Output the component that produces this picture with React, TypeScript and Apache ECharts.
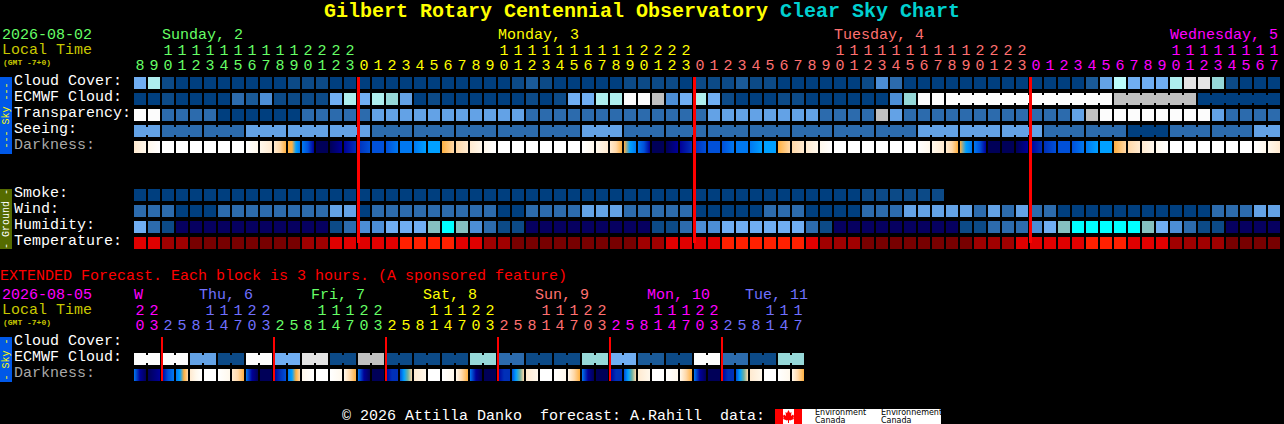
import React, { useEffect, useRef } from "react";
import * as echarts from "echarts";

// ---------- Data ----------
const titleMain = "Gilbert Rotary Centennial Observatory";
const titleSub = "Clear Sky Chart";
const mainRowLabels = ["Cloud Cover:", "ECMWF Cloud:", "Transparency:", "Seeing:", "Darkness:", "", " ", "Smoke:", "Wind:", "Humidity:", "Temperature:"];
const extRowLabels = ["Cloud Cover:", "ECMWF Cloud:", "Darkness:"];

const mainHours = "8901234567890123012345678901234567890123012345678901234567890123012345678901234567".split("");
const mainTens = "  11111111112222          11111111112222          11111111112222          11111111".split("");
const extHours = "032581470325814703258147032581470325814703258147".split("");
const extTens = "22   11122   11122   11122   11122   11122   111".split("");

const mainDayNames = ["Sunday, 2", "Monday, 3", "Tuesday, 4", "Wednesday, 5"];
const extDayNames = ["W", "Thu, 6", "Fri, 7", "Sat, 8", "Sun, 9", "Mon, 10", "Tue, 11"];

// Column where the next day's colour starts
const mainDaySpans = [16, 24, 24, 18];
const extDaySpans = [2, 8, 8, 8, 8, 8, 6];
const mainMidnights = [16, 40, 64];
const extMidnights = [2, 10, 18, 26, 34, 42];

// 0 clear ... 11 overcast, 12 pale, 13 navy, 14 cyan, 15 teal
const cloudCover = [
  6, 8, 1, 0, 0, 0, 0, 0, 0, 0,
  0, 1, 1, 1, 0, 0, 0, 0, 0, 0,
  0, 0, 0, 0, 0, 0, 0, 1, 2, 1,
  0, 0, 0, 0, 0, 1, 1, 1, 1, 0,
  1, 1, 1, 2, 1, 1, 0, 0, 0, 0,
  0, 0, 1, 4, 3, 0, 0, 0, 0, 0,
  0, 0, 0, 0, 0, 0, 0, 0, 2, 5,
  12, 6, 6, 6, 8, 10, 10, 7, 1, 0,
  0, 0,
];
const ecmwfCloud = [
  0, 0, 1, 0, 0, 0, 0, 3, 2, 4,
  1, 1, 1, 1, 6, 8, 6, 8, 7, 5,
  0, 1, 0, 0, 0, 0, 0, 0, 1, 0,
  1, 6, 6, 8, 8, 11, 11, 9, 4, 6,
  8, 6, 1, 0, 0, 0, 1, 1, 0, 0,
  0, 0, 0, 0, 4, 7, 11, 11, 11, 11,
  11, 11, 11, 11, 11, 11, 11, 11, 11, 11,
  9, 9, 9, 9, 9, 9, 0, 0, 0, 0,
  0, 0,
];
const ecmwfRuns = [
  1, 1, 1, 1, 1, 1, 1, 1, 1, 1, 1, 1, 1, 1, 1, 1, 1, 1, 1, 1,
  1, 1, 1, 1, 1, 1, 1, 1, 1, 1, 1, 1, 1, 1, 1, 1, 1, 1, 1, 1,
  1, 1, 1, 1, 1, 1, 1, 1, 1, 1, 1, 1, 1, 1, 1, 1, 1, 1,
  12, 6, 6,
];
const transparency = [
  11, 11, 3, 3, 3, 3, 0, 0, 0, 0,
  0, 0, 3, 3, 3, 3, 3, 5, 5, 5,
  5, 5, 5, 5, 5, 5, 5, 5, 3, 3,
  3, 3, 3, 3, 3, 3, 3, 3, 3, 3,
  3, 5, 5, 5, 5, 5, 5, 5, 5, 3,
  3, 3, 3, 9, 5, 3, 3, 3, 3, 3,
  3, 3, 3, 3, 3, 3, 3, 5, 9, 11,
  11, 11, 11, 11, 11, 11, 11, 5, 3, 3,
  3, 3,
];
const seeing = [
  5, 5, 3, 3, 3, 3, 3, 3, 5, 5,
  5, 5, 5, 5, 5, 5, 5, 3, 3, 3,
  3, 3, 3, 3, 3, 3, 3, 3, 3, 3,
  3, 3, 5, 5, 5, 3, 3, 3, 3, 3,
  3, 3, 3, 3, 3, 3, 3, 3, 3, 3,
  3, 3, 3, 3, 3, 3, 5, 5, 5, 5,
  5, 5, 5, 5, 5, 3, 3, 3, 3, 3,
  3, 0, 0, 0, 3, 3, 3, 3, 3, 3,
  5, 5,
];
const seeingRuns = [2, 3, 3, 3, 3, 3, 3, 3, 3, 3, 3, 3, 3, 3, 3, 3, 3, 3, 3, 3, 3, 3, 3, 3, 3, 3, 3, 2];
const smoke = [
  0, 0, 0, 0, 0, 0, 0, 0, 0, 0,
  0, 0, 0, 0, 0, 0, 0, 0, 0, 0,
  0, 0, 0, 0, 0, 0, 0, 0, 0, 0,
  0, 0, 0, 0, 0, 0, 0, 0, 0, 0,
  0, 0, 0, 0, 0, 0, 0, 0, 0, 0,
  0, 0, 1, 1, 1, 1, 1, 1,
];
const wind = [
  3, 3, 3, 0, 0, 0, 3, 3, 3, 3,
  3, 3, 3, 3, 5, 5, 0, 3, 3, 3,
  3, 3, 3, 3, 3, 3, 0, 0, 3, 3,
  3, 3, 5, 5, 5, 3, 3, 3, 3, 3,
  0, 0, 0, 0, 0, 3, 3, 3, 0, 0,
  0, 0, 3, 3, 3, 5, 5, 5, 5, 5,
  3, 5, 3, 5, 3, 3, 0, 0, 0, 0,
  0, 0, 0, 0, 0, 0, 0, 3, 3, 3,
  5, 5,
];
const humidity = [
  6, 3, 1, 13, 13, 13, 13, 13, 13, 13,
  13, 13, 13, 13, 1, 3, 4, 4, 6, 6,
  6, 15, 14, 15, 4, 3, 1, 1, 13, 13,
  13, 13, 13, 13, 13, 13, 13, 1, 1, 3,
  4, 4, 6, 6, 6, 6, 6, 6, 3, 1,
  13, 13, 13, 13, 13, 13, 13, 13, 13, 1,
  1, 3, 3, 3, 4, 6, 15, 14, 14, 14,
  14, 14, 15, 6, 4, 3, 1, 1, 13, 13,
  13, 13,
];
const temperature = [
  2, 2, 1, 1, 0, 0, 0, 0, 0, 0,
  0, 0, 1, 1, 2, 2, 2, 2, 2, 3,
  3, 3, 3, 2, 2, 1, 1, 0, 0, 0,
  0, 0, 0, 0, 0, 0, 1, 1, 2, 2,
  2, 2, 3, 3, 3, 3, 3, 3, 2, 1,
  1, 1, 0, 0, 0, 0, 0, 0, 0, 0,
  1, 1, 1, 2, 2, 2, 2, 2, 3, 3,
  3, 2, 2, 2, 1, 1, 1, 1, 0, 0,
  0, 0,
];
// darkness samples across each block: 0 daylight ... 4 twilight ... 11 full night
const darkness = [
  [2, 1], [1, 0], [0], [0], [0], [0], [0], [0], [0, 1], [1, 2],
  [2, 3, 4], [4, 4, 6, 7], [7, 8, 10], [11], [11, 10], [10, 9], [9, 8], [8], [8, 7], [7],
  [7, 6], [6], [4, 3], [3, 2], [2, 1], [1, 0], [0], [0], [0], [0],
  [0], [0], [0, 1], [1, 2], [2, 3, 4], [4, 6, 7], [7, 8, 10], [11], [11, 10], [10, 9],
  [9, 8], [8], [8, 7], [7], [7, 6], [6], [4, 3], [3, 2], [2, 1], [1, 0],
  [0], [0], [0], [0], [0], [0], [0, 1], [1, 2], [2, 3, 4], [4, 6, 7],
  [7, 8, 10], [11], [11], [11, 10], [10, 9], [9, 8], [8], [8, 7], [7, 6], [6],
  [4, 3], [3, 2], [2, 1], [1, 0], [0], [0], [0], [0], [0], [0],
  [0, 1], [1, 2],
];
const extEcmwf = [
  11, 11, 11, 11, 5, 5, 1, 1, 11, 11,
  6, 6, 10, 10, 1, 1, 9, 9, 1, 1,
  1, 1, 1, 1, 7, 7, 3, 3, 1, 1,
  1, 1, 7, 7, 6, 6, 2, 2, 1, 1,
  11, 11, 3, 3, 1, 1, 7, 7,
];
const extRuns = [2, 2, 2, 2, 2, 2, 2, 2, 2, 2, 2, 2, 2, 2, 2, 2, 2, 2, 2, 2, 2, 2, 2, 2];
const extDarkness = [
  [7, 10, 11], [11, 10], [10, 8, 7], [7, 6, 4, 3], [2, 1, 0], [0], [0, 1], [2, 3, 4],
  [7, 10, 11], [11], [10, 9, 8], [7, 6, 4, 3], [1, 0], [0], [0, 1], [1, 3, 4],
  [7, 10, 11], [11], [10, 9, 9], [8, 6, 5, 3], [2, 1], [0], [0, 1], [1, 3, 4],
  [7, 10, 11], [11], [10, 9, 9], [8, 6, 5, 3], [2, 1], [0], [0, 1], [1, 3, 4],
  [7, 10, 11], [11], [10, 9, 9], [8, 6, 5, 3], [2, 1], [0], [0, 1], [1, 3, 4],
  [7, 10, 11], [11], [10, 9, 9], [8, 6, 5, 3], [2, 1], [0], [0, 1], [1, 3, 4],
];

// ---------- Styles ----------
const skyColors = ["#003F7F", "#0C4A87", "#1A5A98", "#2C6BAD", "#4C8ED6", "#63A2E6", "#70AEF2", "#96D8D8", "#AEEEEE", "#C0C0C0", "#E4E4E4", "#FCFCFC", "#BBFCFC", "#060060", "#00FFFF", "#85C0C0"];
const tempColors = ["#780000", "#A00000", "#E00000", "#FF2000"];
const darkColors = ["#FFFFFF", "#FFF8EC", "#FFEAD0", "#FFD8A8", "#FFB040", "#70B0A0", "#00A0FF", "#0078F0", "#0050D8", "#0030B8", "#000098", "#000058"];
const dayColors = ["#66FF66", "#FFFF00", "#FF7070", "#FF00FF"];
const extDayColors = ["#FF00FF", "#7070FF", "#66FF66", "#FFFF00", "#FF7070", "#FF00FF", "#7070FF"];
const MONO = "'Liberation Mono', monospace";
const SANS = "'DejaVu Sans', sans-serif";

function spread(spans: number[], colors: string[]) {
  const out: string[] = [];
  spans.forEach((n, k) => { for (let i = 0; i < n; i++) out.push(colors[k]); });
  return out;
}

function linksFromRuns(runs: number[]) {
  const out: number[] = [];
  runs.forEach((n) => { for (let i = 0; i < n; i++) out.push(i < n - 1 ? 1 : 0); });
  return out;
}

function cellSeries(values: number[], row: number, colors: string[], axis: number, runs?: number[]) {
  const links = runs ? linksFromRuns(runs) : [];
  return {
    type: "custom",
    xAxisIndex: axis === 0 ? 0 : 2,
    yAxisIndex: axis,
    encode: { x: 0, y: 1 },
    silent: true,
    data: values.map((v, i) => [i, row, v, links[i] || 0]),
    renderItem: (_: any, api: any) => {
      const p = api.coord([api.value(0), api.value(1)]);
      const fill = colors[api.value(2)];
      const children: any[] = [
        { type: "rect", shape: { x: p[0] - 6, y: p[1] - 6, width: 12, height: 12 }, style: { fill } },
      ];
      if (api.value(3)) {
        children.push({ type: "rect", shape: { x: p[0] + 6, y: p[1] - 4, width: 2, height: 8 }, style: { fill } });
      }
      return { type: "group", children };
    },
  };
}

function darkSeries(values: number[][], row: number, axis: number) {
  return {
    type: "custom",
    xAxisIndex: axis === 0 ? 0 : 2,
    yAxisIndex: axis,
    encode: { x: 0, y: 1 },
    silent: true,
    data: values.map((_, i) => [i, row]),
    renderItem: (params: any, api: any) => {
      const p = api.coord([api.value(0), api.value(1)]);
      const stops = values[params.dataIndex];
      const fill = stops.length === 1
        ? darkColors[stops[0]]
        : new echarts.graphic.LinearGradient(0, 0, 1, 0, stops.map((s, k) => ({ offset: k / (stops.length - 1), color: darkColors[s] })));
      return { type: "rect", shape: { x: p[0] - 6, y: p[1] - 6, width: 12, height: 12 }, style: { fill } };
    },
  };
}

function midnightSeries(cols: number[], axis: number, firstRow: number, lastRow: number, width: number, bottomInset: number) {
  return {
    type: "custom",
    xAxisIndex: axis === 0 ? 0 : 2,
    yAxisIndex: axis,
    encode: { x: 0, y: 1 },
    silent: true,
    z: 10,
    data: cols.map((c) => [c, firstRow]),
    renderItem: (_: any, api: any) => {
      const a = api.coord([api.value(0), firstRow]);
      const b = api.coord([api.value(0), lastRow]);
      return {
        type: "rect",
        shape: { x: a[0] - 7, y: a[1] - 6, width, height: b[1] - a[1] + bottomInset + 6 },
        style: { fill: "#FF0000" },
      };
    },
  };
}

function hourAxis(labels: string[], colors: string[], gridIndex: number, offset: number, margin: number) {
  return {
    type: "category",
    gridIndex,
    position: "top",
    offset,
    data: labels.map((value, i) => ({ value, textStyle: { color: colors[i] } })),
    axisLine: { show: false },
    axisTick: { show: false },
    splitLine: { show: false },
    axisLabel: { interval: 0, fontFamily: MONO, fontSize: 15, margin, hideOverlap: false },
  };
}

function rowAxis(labels: string[], gridIndex: number) {
  const rowText = { fontFamily: MONO, fontSize: 15, padding: [0, 0, 4, 0] };
  return {
    type: "category",
    gridIndex,
    inverse: true,
    data: labels,
    axisLine: { show: false },
    axisTick: { show: false },
    splitLine: { show: false },
    axisLabel: {
      interval: 0,
      margin: 119,
      align: "left",
      hideOverlap: false,
      formatter: (v: string) => (v.trim() === "" ? "" : v.startsWith("Darkness") ? `{d|${v}}` : `{w|${v}}`),
      rich: {
        w: { ...rowText, color: "#FFFFFF" },
        d: { ...rowText, color: "#A8A8A8" },
      },
    },
  };
}

function txt(text: string, x: number, y: number, fill: string, fontSize = 15, weight = "normal") {
  return {
    type: "text",
    x,
    y,
    silent: true,
    style: { text, fill, font: `${weight} ${fontSize}px ${MONO}`, align: "left", verticalAlign: "middle" },
  };
}

function sideBar(top: number, height: number, color: string, label: string, textColor: string) {
  return [
    { type: "rect", silent: true, shape: { x: 0, y: top, width: 12, height }, style: { fill: color } },
    {
      type: "text",
      silent: true,
      x: 6,
      y: top + height / 2,
      rotation: Math.PI / 2,
      style: { text: label, fill: textColor, font: `10px ${MONO}`, align: "center", verticalAlign: "middle" },
    },
  ];
}

function box(x: number, y: number, width: number, height: number, fill: string) {
  return { type: "rect", silent: true, shape: { x, y, width, height }, style: { fill } };
}

function small(text: string, x: number, y: number) {
  return { type: "text", silent: true, x, y, style: { text, fill: "#000", font: `8px ${SANS}`, align: "left", verticalAlign: "middle" } };
}

const leafPoints = [
  [788.5, 410], [790, 413], [791.5, 412], [791, 416], [793, 414.5], [794, 416], [793.5, 418],
  [794, 419], [790, 420.5], [789, 420], [789, 423], [788, 423], [788, 420], [787, 420.5],
  [783, 419], [783.5, 418], [783, 416], [784, 414.5], [786, 416], [785.5, 412], [787, 413],
];

export default function App() {
  const ref = useRef<HTMLDivElement>(null);
  useEffect(() => {
    document.documentElement.style.background = "#000";
    document.body.style.margin = "0";
    document.body.style.background = "#000";
    document.body.style.overflow = "hidden";
    const chart = echarts.init(ref.current!, undefined, { renderer: "svg" });
    const mainColors = spread(mainDaySpans, dayColors);
    const extColors = spread(extDaySpans, extDayColors);
    chart.setOption({
      animation: false,
      backgroundColor: "#000000",
      title: {
        text: `{a|${titleMain}} {b|${titleSub}}`,
        left: "center",
        top: 1,
        padding: 0,
        textStyle: {
          fontFamily: MONO,
          fontSize: 20,
          fontWeight: "bold",
          rich: {
            a: { color: "#FFFF00", fontFamily: MONO, fontSize: 20, fontWeight: "bold" },
            b: { color: "#00D0D0", fontFamily: MONO, fontSize: 20, fontWeight: "bold" },
          },
        },
      },
      grid: [
        { left: 133, top: 75, width: 1148, height: 176, outerBoundsMode: "none" },
        { left: 133, top: 335, width: 672, height: 48, outerBoundsMode: "none" },
      ],
      xAxis: [
        hourAxis(mainHours, mainColors, 0, 0, 1),
        hourAxis(mainTens, mainColors, 0, 15, 1),
        hourAxis(extHours, extColors, 1, 0, 1),
        hourAxis(extTens, extColors, 1, 15, 1),
      ],
      yAxis: [rowAxis(mainRowLabels, 0), rowAxis(extRowLabels, 1)],
      series: [
        cellSeries(cloudCover, 0, skyColors, 0),
        cellSeries(ecmwfCloud, 1, skyColors, 0, ecmwfRuns),
        cellSeries(transparency, 2, skyColors, 0),
        cellSeries(seeing, 3, skyColors, 0, seeingRuns),
        darkSeries(darkness, 4, 0),
        cellSeries(smoke, 7, skyColors, 0),
        cellSeries(wind, 8, skyColors, 0),
        cellSeries(humidity, 9, skyColors, 0),
        cellSeries(temperature, 10, tempColors, 0),
        midnightSeries(mainMidnights, 0, 0, 10, 3, 0),
        cellSeries(extEcmwf, 1, skyColors, 1, extRuns),
        darkSeries(extDarkness, 2, 1),
        midnightSeries(extMidnights, 1, 0, 2, 2, 6),
      ],
      graphic: [
        txt("2026-08-02", 2, 35, "#66FF66"),
        txt("Local Time", 2, 50, "#C8C800"),
        txt("(GMT -7+0)", 3, 62, "#C8C800", 8, "bold"),
        txt(mainDayNames[0], 162, 35, dayColors[0]),
        txt(mainDayNames[1], 498, 35, dayColors[1]),
        txt(mainDayNames[2], 834, 35, dayColors[2]),
        txt(mainDayNames[3], 1170, 35, dayColors[3]),
        ...sideBar(77, 77, "#0058E8", "--- Sky ---", "#FFFF00"),
        ...sideBar(189, 60, "#556B00", "- Ground -", "#FFFFFF"),
        txt("EXTENDED Forecast. Each block is 3 hours. (A sponsored feature)", 0, 276, "#FF0000"),
        txt("2026-08-05", 2, 295, "#FF00FF"),
        txt("Local Time", 2, 310, "#C8C800"),
        txt("(GMT -7+0)", 3, 322, "#C8C800", 8, "bold"),
        txt(extDayNames[0], 134, 295, extDayColors[0]),
        txt(extDayNames[1], 199, 295, extDayColors[1]),
        txt(extDayNames[2], 311, 295, extDayColors[2]),
        txt(extDayNames[3], 423, 295, extDayColors[3]),
        txt(extDayNames[4], 535, 295, extDayColors[4]),
        txt(extDayNames[5], 647, 295, extDayColors[5]),
        txt(extDayNames[6], 745, 295, extDayColors[6]),
        ...sideBar(337, 45, "#0058E8", "- Sky -", "#FFFF00"),
        txt("© 2026 Attilla Danko  forecast: A.Rahill  data:", 342, 416, "#FFFFFF"),
        box(775, 409, 27, 15, "#FF0000"),
        box(783, 409, 11, 15, "#FFFFFF"),
        { type: "polygon", silent: true, shape: { points: leafPoints }, style: { fill: "#FF0000" } },
        box(802, 409, 139, 15, "#FFFFFF"),
        small("Environment", 815, 412.5),
        small("Canada", 815, 420),
        small("Environnement", 881, 412.5),
        small("Canada", 881, 420),
      ],
    });
    return () => chart.dispose();
  }, []);
  return <div ref={ref} style={{ width: 1284, height: 424, background: "#000" }} />;
}
